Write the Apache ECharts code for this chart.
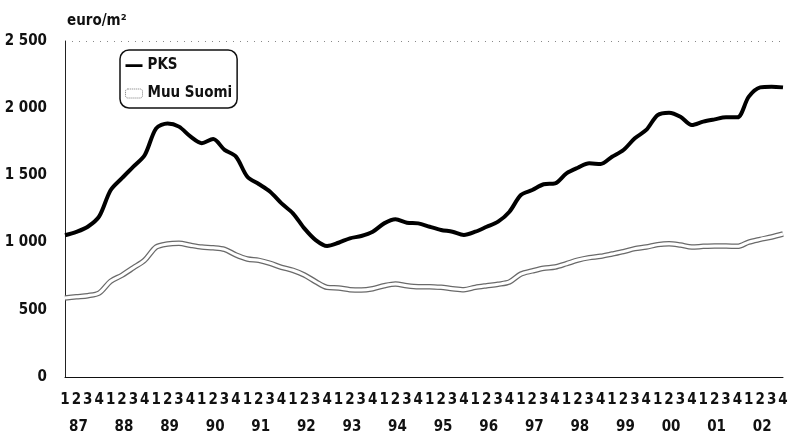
<!DOCTYPE html>
<html>
<head>
<meta charset="utf-8">
<title>euro/m2</title>
<script src="https://cdn.jsdelivr.net/npm/echarts@6/dist/echarts.min.js"></script>
<style>
  html, body { margin: 0; padding: 0; background: #fff; }
  #chart { width: 792px; height: 435px; }
</style>
</head>
<body>
<div id="chart"></div>
<script>
// vuodet ja neljännekset
var years = ['87','88','89','90','91','92','93','94','95','96','97','98','99','00','01','02'];
var quarters = ['1','2','3','4'];

// PKS, euro/m2 (neljännesvuosittain 1987/1 - 2002/4)
var pks = [
  1055, 1080, 1118, 1195, 1390, 1480, 1565, 1652,
  1850, 1887, 1863, 1790, 1740, 1770, 1690, 1640,
  1490, 1436, 1379, 1292, 1218, 1106, 1019, 975,
  999, 1032, 1049, 1081, 1143, 1173, 1148, 1143,
  1118, 1094, 1081, 1057, 1081, 1118, 1156, 1230,
  1354, 1391, 1434, 1441, 1515, 1557, 1590, 1585,
  1639, 1689, 1776, 1838, 1949, 1967, 1937, 1875,
  1900, 1917, 1932, 1932, 2086, 2155, 2160, 2155
];

// Muu Suomi, euro/m2
var muuSuomi = [
  588, 597, 605, 625, 712, 757, 813, 870,
  967, 990, 995, 980, 967, 962, 950, 908,
  878, 868, 846, 816, 794, 759, 709, 667,
  662, 650, 647, 657, 679, 692, 679, 672,
  672, 667, 657, 650, 667, 679, 690, 707,
  766, 789, 809, 818, 843, 870, 888, 898,
  915, 933, 955, 967, 985, 992, 982, 967,
  972, 975, 975, 972, 1004, 1024, 1042, 1064
];

// x-akselin kategoriat
var quarterCats = [];
var yearCats = [];
years.forEach(function (y) {
  quarters.forEach(function (q) {
    quarterCats.push(q);
    yearCats.push(y);
  });
});

var font = "'DejaVu Sans Condensed', 'Liberation Sans Narrow', sans-serif";

// paksu viiva legendaan (pienet kulmapalat pitävät mittasuhteet)
var pksIcon = 'path://M0,0h0.05v0.05h-0.05z M0,3.4h20v3.4h-20z M19.95,9.95h0.05v0.05h-0.05z';

var chart = echarts.init(document.getElementById('chart'));

var option = {
  backgroundColor: '#fff',
  animation: false,
  title: {
    text: 'euro/m²',
    left: 62,
    top: 9,
    textStyle: { fontFamily: font, fontWeight: 'bold', fontSize: 15, color: '#111' }
  },
  legend: {
    orient: 'vertical',
    left: 120,
    top: 50,
    padding: [8, 5, 7, 5],
    itemGap: 13,
    itemWidth: 17,
    itemHeight: 9,
    borderColor: '#111',
    borderWidth: 1.5,
    borderRadius: 9,
    textStyle: { fontFamily: font, fontWeight: 'bold', fontSize: 15, color: '#111' },
    data: [
      { name: 'PKS', icon: pksIcon, itemStyle: { color: '#000' } },
      { name: 'Muu Suomi', icon: 'roundRect', itemStyle: { color: '#fff', borderColor: '#777', borderWidth: 1, borderType: 'dotted' } }
    ]
  },
  grid: { left: 65, right: 9, top: 41, bottom: 58 },
  xAxis: [
    {
      type: 'category',
      data: quarterCats,
      boundaryGap: false,
      axisLine: { lineStyle: { color: '#111', width: 1 } },
      axisTick: { show: false },
      splitLine: { show: false },
      axisLabel: {
        interval: 0,
        margin: 16,
        fontFamily: font, fontWeight: 'bold', fontSize: 15, color: '#111'
      }
    },
    {
      type: 'category',
      data: yearCats,
      position: 'bottom',
      boundaryGap: false,
      axisLine: { show: false },
      axisTick: { show: false },
      splitLine: { show: false },
      axisLabel: {
        interval: function (i) { return i % 4 === 1; },
        margin: 43,
        padding: [0, 0, 0, 4],
        fontFamily: font, fontWeight: 'bold', fontSize: 15, color: '#111'
      }
    }
  ],
  yAxis: {
    type: 'value',
    min: 0,
    max: 2500,
    interval: 500,
    axisLine: { show: true, lineStyle: { color: '#222', width: 1 } },
    axisTick: { show: false },
    splitLine: {
      show: true,
      lineStyle: { type: [1, 6], color: ['none', 'none', 'none', 'none', 'none', '#888'] }
    },
    axisLabel: {
      margin: 18,
      fontFamily: font, fontWeight: 'bold', fontSize: 15, color: '#111',
      formatter: function (v) {
        return String(v).replace(/\B(?=(\d{3})+(?!\d))/g, ' ');
      }
    }
  },
  series: [
    {
      name: 'Muu Suomi',
      type: 'line',
      data: muuSuomi,
      smooth: 0.3,
      symbol: 'none',
      lineStyle: { color: '#6a6a6a', width: 5.5 },
      itemStyle: { color: '#6a6a6a' },
      z: 2
    },
    {
      // valkoinen sisäviiva tekee kaksoisviivan
      name: 'muu-inner',
      type: 'line',
      data: muuSuomi,
      smooth: 0.3,
      symbol: 'none',
      lineStyle: { color: '#fff', width: 3 },
      silent: true,
      z: 3
    },
    {
      name: 'PKS',
      type: 'line',
      data: pks,
      smooth: 0.3,
      symbol: 'none',
      lineStyle: { color: '#000', width: 4 },
      itemStyle: { color: '#000' },
      z: 4
    }
  ]
};

chart.setOption(option);
</script>
</body>
</html>
